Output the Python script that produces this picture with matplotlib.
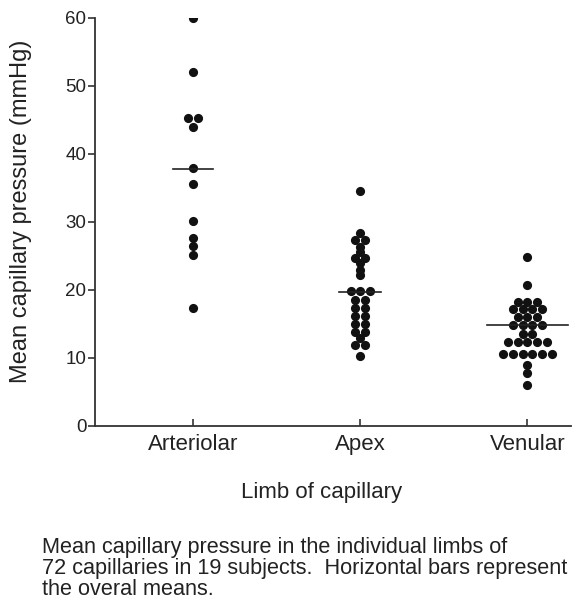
import numpy as np
import matplotlib
matplotlib.use("Agg")
import matplotlib.pyplot as plt

plt.rcParams['font.family'] = ['Liberation Sans', 'DejaVu Sans']

# data (mmHg)
categories = ['Arteriolar', 'Apex', 'Venular']
arteriolar = [60.0, 52.1, 45.3, 45.3, 44.0, 37.9, 35.6, 30.1, 27.6, 26.4, 25.2, 17.3]
apex = [34.6, 28.4, 27.4, 27.4, 26.3, 25.6, 24.7, 24.7, 24.0, 23.0, 22.2,
        19.9, 19.9, 19.9, 18.6, 18.6, 17.4, 17.4, 16.2, 16.2, 15.0, 15.0,
        13.8, 13.8, 12.9, 11.9, 11.9, 10.3]
venular = [24.8, 20.8, 18.3, 18.3, 18.3, 17.2, 17.2, 17.2, 17.2, 16.0, 16.0, 16.0,
           14.8, 14.8, 14.8, 14.8, 13.6, 13.6, 12.4, 12.4, 12.4, 12.4, 12.4,
           10.6, 10.6, 10.6, 10.6, 10.6, 10.6, 9.0, 7.8, 6.0]
means = [37.8, 19.7, 14.8]
yticks = [0, 10, 20, 30, 40, 50, 60]

caption = ("Mean capillary pressure in the individual limbs of\n"
           "72 capillaries in 19 subjects.  Horizontal bars represent\n"
           "the overal means.")


def spread(values, step):
    # points with the same value sit side by side, centred on the column
    vals = np.array(values)
    out = np.zeros(len(vals))
    for v in np.unique(vals):
        idx = np.where(vals == v)[0]
        n = len(idx)
        out[idx] = (np.arange(n) - (n - 1) / 2) * step
    return out


fig = plt.figure(figsize=(5.85, 6.0), dpi=100)
ax = fig.add_axes([0.162, 0.29, 0.814, 0.68])

step = 0.058
mean_half = [0.12, 0.125, 0.24]
for i, vals in enumerate([arteriolar, apex, venular]):
    dx = spread(vals, step)
    ax.plot(i + dx, vals, 'o', color='#111111', markersize=6.6, markeredgewidth=0)
    ax.plot([i - mean_half[i], i + mean_half[i]], [means[i], means[i]],
            color='#222222', lw=1.2, zorder=3)

ax.set_xlim(-0.587, 2.26)
ax.set_ylim(0, 60)
ax.set_yticks(yticks)
ax.set_xticks(range(len(categories)))
ax.set_xticklabels(categories)

for s in ['top', 'right']:
    ax.spines[s].set_visible(False)
for s in ['left', 'bottom']:
    ax.spines[s].set_color('#333333')
    ax.spines[s].set_linewidth(1.3)
ax.tick_params(axis='y', direction='out', length=5, width=1.2, color='#333333',
               labelsize=13.5, pad=1, labelcolor='#222222')
ax.tick_params(axis='x', direction='in', length=5, width=1.2, color='#333333',
               labelsize=16, pad=6, labelcolor='#222222')
ax.set_ylabel('Mean capillary pressure (mmHg)', fontsize=17, color='#222222')
ax.yaxis.set_label_coords(-0.132, 0.525)
ax.set_xlabel('Limb of capillary', fontsize=16, color='#222222')
ax.xaxis.set_label_coords(0.477, -0.138)

fig.text(0.072, 0.053, caption, fontsize=15.6, ha='left', va='center',
         linespacing=1.0, color='#222222')

fig.savefig('out.png', dpi=100)
